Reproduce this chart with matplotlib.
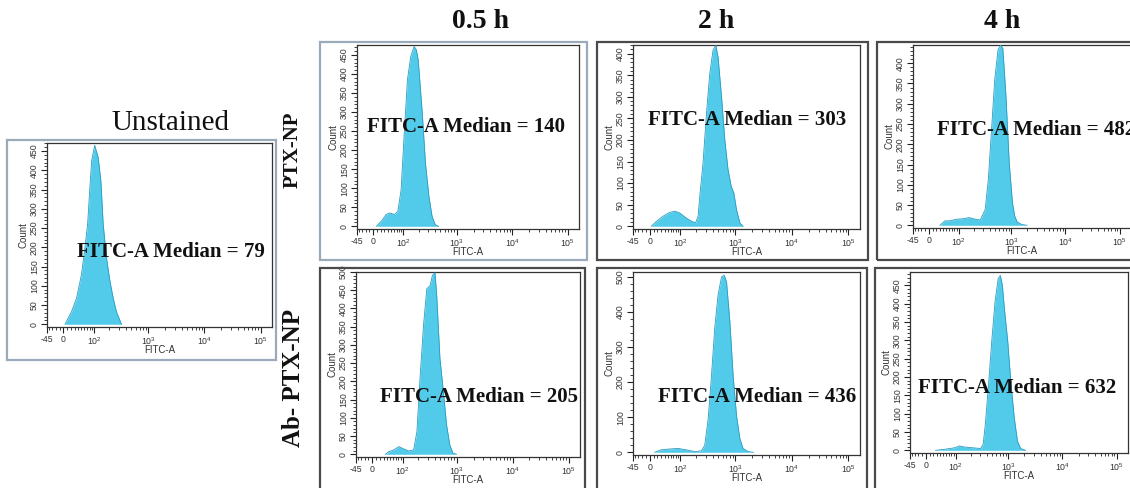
import matplotlib
matplotlib.use("Agg")
import matplotlib.pyplot as plt
from matplotlib.patches import Rectangle
from matplotlib.ticker import FixedLocator, MultipleLocator, NullFormatter

plt.rcParams["mathtext.fontset"] = "custom"
plt.rcParams["mathtext.rm"] = "Liberation Sans"
plt.rcParams["mathtext.it"] = "Liberation Sans:italic"
plt.rcParams["mathtext.bf"] = "Liberation Sans:bold"

# ---- histogram data (FITC-A fluorescence vs event count) ----
unstained_x = [4, 21, 35, 50, 62, 72, 82, 89, 103, 121, 137, 152, 176, 204, 234, 268, 332]
unstained_n = [0, 33, 68, 129, 199, 260, 364, 426, 465, 434, 373, 260, 172, 112, 68, 33, 0]

ptx05_x = [8, 21, 35, 45, 62, 75, 89, 103, 121, 141, 164, 181, 196, 234, 268, 310, 355, 406, 467]
ptx05_n = [0, 13, 31, 35, 31, 39, 96, 236, 385, 446, 472, 463, 437, 297, 166, 79, 26, 4, 0]

ptx2_x = [4, 17, 35, 56, 75, 96, 131, 164, 196, 218, 234, 268, 310, 355, 406, 455, 499,
          575, 657, 750, 855, 950, 1060, 1213, 1380]
ptx2_n = [0, 11, 23, 32, 35, 31, 19, 12, 8, 23, 69, 146, 262, 354, 408, 419, 392,
          300, 200, 131, 92, 77, 38, 8, 0]

ptx4_x = [30, 45, 62, 89, 121, 164, 218, 268, 332, 380, 436, 499, 575, 640, 705, 806,
          925, 1060, 1165, 1300, 1580, 1960]
ptx4_n = [0, 11, 11, 15, 16, 19, 15, 13, 39, 113, 236, 359, 433, 445, 437, 318,
          154, 56, 23, 8, 2, 0]

ab05_x = [35, 45, 62, 82, 103, 131, 164, 189, 218, 251, 288, 332, 365, 406, 436, 499,
          575, 657, 750, 855, 988]
ab05_n = [0, 7, 12, 21, 15, 9, 12, 62, 217, 354, 454, 463, 491, 498, 436, 263,
          172, 80, 26, 3, 0]

ab2_x = [13, 30, 50, 89, 131, 189, 251, 288, 332, 380, 436, 499, 575, 640, 705, 806,
         925, 1060, 1213, 1380, 1700, 2100]
ab2_n = [0, 7, 9, 11, 7, 2, 4, 20, 95, 216, 356, 449, 500, 505, 486, 374,
         216, 104, 39, 11, 2, 0]

ab4_x = [26, 56, 96, 121, 152, 218, 310, 346, 380, 436, 499, 575, 657, 720, 785, 855,
         988, 1135, 1300, 1489, 1700, 2100]
ab4_n = [0, 3, 7, 12, 9, 7, 5, 16, 71, 179, 296, 405, 468, 477, 450, 387,
         296, 179, 89, 25, 5, 0]

medians = [79, 140, 303, 482, 205, 436, 632]
y_tops = [471, 476, 420, 445, 500, 514, 486]
y_steps = [50, 50, 50, 50, 50, 100, 50]

x_tick_values = [-45, 0, 100, 1000, 10000, 100000]
x_tick_labels = ["-45", "0", "10$^2$", "10$^3$", "10$^4$", "10$^5$"]
column_titles = ["0.5 h", "2 h", "4 h"]
row_titles = ["PTX-NP", "Ab- PTX-NP"]

# ---- figure ----
W, H = 1130, 488
fig = plt.figure(figsize=(W / 100, H / 100), dpi=100, facecolor="white")

FILL = "#52cbea"
EDGE = "#2a9cc0"
LIGHT_FRAME = "#9aaabb"
DARK_FRAME = "#4a4a4a"

x_minor = ([-40, -30, -20, -10] + list(range(10, 100, 10)) + list(range(200, 1000, 100))
           + list(range(2000, 10000, 1000)) + list(range(20000, 100000, 10000))
           + [200000])


def fx(px):
    return px / W


def fy(py):
    return 1 - py / H


def add_frame(x0, y0, x1, y1, color):
    fig.add_artist(Rectangle((fx(x0), fy(y1)), fx(x1 - x0), (y1 - y0) / H,
                             transform=fig.transFigure, fill=False,
                             ec=color, lw=1.6, zorder=1))


def add_panel(box, xs, ns, ymax, ystep, median, text_pos):
    L, T, R, B = box
    ax = fig.add_axes([fx(L), fy(B), fx(R - L), (B - T) / H])
    ax.set_xscale("asinh", linear_width=62)
    ax.set_xlim(-45, 160000)
    ax.set_ylim(-ymax * 0.015, ymax)
    ax.fill_between(xs, ns, 0, color=FILL, lw=0, zorder=2)
    ax.plot(xs, ns, color=EDGE, lw=0.6, zorder=3)

    ax.xaxis.set_major_locator(FixedLocator(x_tick_values))
    ax.set_xticklabels(x_tick_labels)
    ax.xaxis.set_minor_locator(FixedLocator(x_minor))
    ax.xaxis.set_minor_formatter(NullFormatter())

    ax.yaxis.set_major_locator(MultipleLocator(ystep))
    ax.yaxis.set_minor_locator(MultipleLocator(ystep / 5))

    ax.tick_params(axis="both", which="major", direction="out", length=4.5,
                   width=0.8, color="#222222", labelsize=6.3, labelcolor="#333333",
                   pad=1.2)
    ax.tick_params(axis="both", which="minor", direction="out", length=2.5,
                   width=0.6, color="#222222")
    ax.tick_params(axis="y", labelrotation=90)
    for lab in ax.get_yticklabels():
        lab.set_va("center")
        lab.set_family("Liberation Sans")
    for lab in ax.get_xticklabels():
        lab.set_family("Liberation Sans")

    ax.set_ylabel("Count", fontsize=7, family="Liberation Sans", color="#333333",
                  labelpad=1)
    ax.set_xlabel("FITC-A", fontsize=7, family="Liberation Sans", color="#333333",
                  labelpad=-1.5)
    for sp in ax.spines.values():
        sp.set_color("#333333")
        sp.set_linewidth(0.9)

    fig.text(fx(text_pos[0]), fy(text_pos[1]), f"FITC-A Median = {median}",
             family="Liberation Serif", weight="bold", fontsize=15,
             ha="left", va="center", color="#111111", zorder=10)
    return ax


# frames
add_frame(7, 140, 276, 360, LIGHT_FRAME)
add_frame(320, 42, 587, 260, LIGHT_FRAME)
add_frame(597, 42, 868, 260, DARK_FRAME)
add_frame(877, 42, 1145, 260, DARK_FRAME)
add_frame(320, 268, 585, 500, DARK_FRAME)
add_frame(597, 268, 867, 500, DARK_FRAME)
add_frame(875, 268, 1145, 500, DARK_FRAME)

panels = [
    ((47, 143, 272, 327), unstained_x, unstained_n, (77, 252)),
    ((357, 45, 579, 229), ptx05_x, ptx05_n, (367, 127)),
    ((633, 45, 860, 229), ptx2_x, ptx2_n, (648, 120)),
    ((913, 45, 1131, 228), ptx4_x, ptx4_n, (937, 130)),
    ((356, 272, 580, 457), ab05_x, ab05_n, (380, 397)),
    ((633, 272, 860, 455), ab2_x, ab2_n, (658, 397)),
    ((910, 272, 1128, 453), ab4_x, ab4_n, (918, 388)),
]
for i, (box, xs, ns, tpos) in enumerate(panels):
    add_panel(box, xs, ns, y_tops[i], y_steps[i], medians[i], tpos)

# titles
fig.text(fx(170), fy(123), "Unstained", family="Liberation Serif", fontsize=21,
         ha="center", va="center", color="#111111")
for label, cx in zip(column_titles, [480, 716, 1002]):
    fig.text(fx(cx), fy(22), label, family="Liberation Serif", weight="bold",
             fontsize=20, ha="center", va="center", color="#111111")
for label, cy, size in zip(row_titles, [150, 378], [15, 18]):
    fig.text(fx(293), fy(cy), label, family="Liberation Serif", weight="bold",
             fontsize=size, rotation=90, ha="center", va="center", color="#111111")

fig.savefig("out.png", dpi=100, facecolor="white")
